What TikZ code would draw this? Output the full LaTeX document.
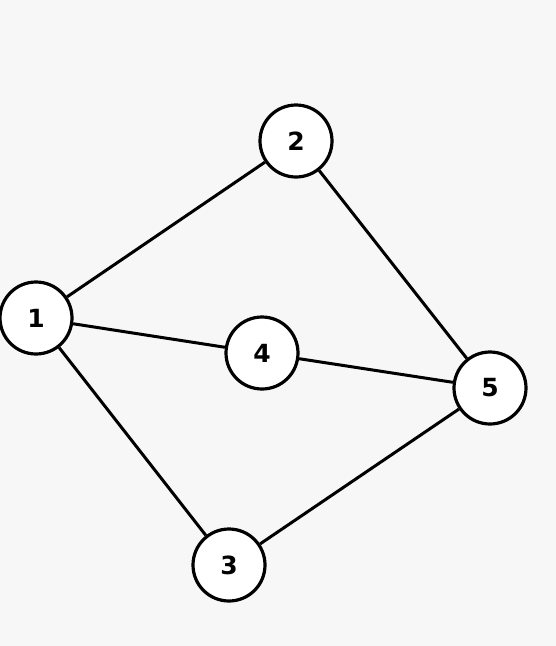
\documentclass[tikz,border=0pt]{standalone}
\usepackage{fontspec}
\setsansfont{DejaVu Sans}
\definecolor{bggray}{HTML}{F7F7F7}
\begin{document}
\begin{tikzpicture}[x=1pt,y=-1pt,
  vertex/.style={draw,circle,line width=3.2pt,fill=white,minimum size=72pt,inner sep=0pt,
    font=\sffamily\bfseries\fontsize{25}{28}\selectfont},
  edge/.style={line width=3pt}]
  \fill[bggray] (0,0) rectangle (556,646);
  \useasboundingbox (0,0) rectangle (556,646);
  \node[vertex] (v1) at (36,318) {1};
  \node[vertex] (v2) at (296,141) {2};
  \node[vertex] (v3) at (229,565) {3};
  \node[vertex] (v4) at (262,353) {4};
  \node[vertex] (v5) at (490,388) {5};
  \draw[edge] (v1) -- (v2);
  \draw[edge] (v1) -- (v4);
  \draw[edge] (v1) -- (v3);
  \draw[edge] (v2) -- (v5);
  \draw[edge] (v4) -- (v5);
  \draw[edge] (v3) -- (v5);
\end{tikzpicture}
\end{document}
